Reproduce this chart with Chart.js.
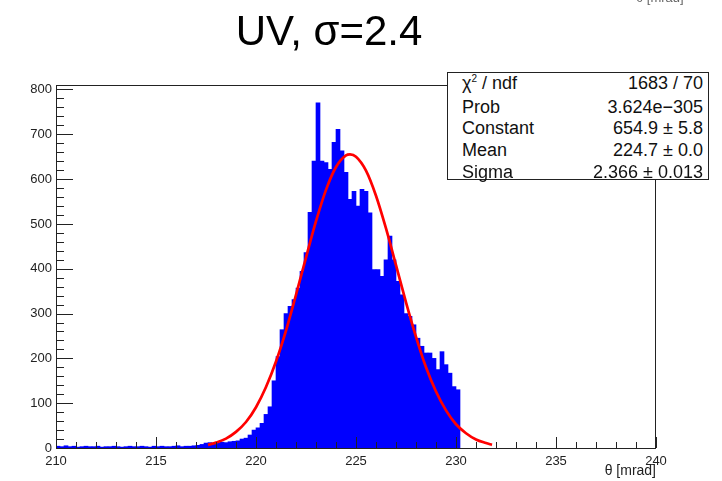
<!DOCTYPE html>
<html>
<head>
<meta charset="utf-8">
<script src="https://cdn.jsdelivr.net/npm/chart.js@4/dist/chart.umd.min.js"></script>
<style>
  html, body { margin: 0; padding: 0; background: #fff; }
  #wrap { position: relative; width: 722px; height: 481px; overflow: hidden; font-family: "Liberation Sans", Arial, sans-serif; }
  #c { position: absolute; left: 0; top: 0; }
  .title { position: absolute; left: 329px; top: 10px; transform: translateX(-50%); font-size: 42px; line-height: 42px; color: #000; white-space: nowrap; }
  .frag { position: absolute; left: 636px; top: -9px; font-size: 13px; line-height: 13px; color: #666; white-space: nowrap; }
  .stats { position: absolute; left: 447px; top: 72px; width: 260px; height: 106px; border: 1px solid #222; background: #fff; }
  .row { position: absolute; left: 0; right: 0; height: 18px; font-size: 18px; line-height: 18px; color: #111; white-space: nowrap; }
  .row .l { position: absolute; left: 14px; }
  .row .r { position: absolute; right: 5px; }
  sup { font-size: 10px; line-height: 0; vertical-align: 7px; }
</style>
</head>
<body>
<div id="wrap">
  <canvas id="c" width="722" height="481"></canvas>
  <div class="frag">θ [mrad]</div>
  <div class="title">UV, σ=2.4</div>
  <div class="stats" id="stats"></div>
</div>
<script>
// ---- data ----
const binStart = 210;      // lower edge of first bin (mrad)
const binWidth = 0.2;      // bin width (mrad)
const counts = [
  4,3,5,3,4,2,3,4,3,3,4,2,3,3,4,3,2,3,4,3,3,4,3,2,4,3,4,3,3,4,5,3,4,4,5,6,8,
  11,12,10,12,13,12,14,15,16,20,22,29,40,45,55,75,92,150,204,264,300,316,331,357,394,436,
  526,640,770,640,637,622,682,711,663,615,555,573,540,577,573,525,398,398,383,420,473,420,
  372,342,300,294,275,245,227,212,212,200,175,215,186,167,137,130
];
// fit curve (red)
const fitX = [217.6,218.0,218.5,219.0,219.5,220.0,220.5,221.0,221.5,222.0,222.5,223.0,223.5,224.0,224.5,224.7,
              225.0,225.5,226.0,226.5,227.0,227.5,228.0,228.5,229.0,229.5,230.0,230.5,231.0,231.5,231.8];
const fitY = [7,12,21,36,58,91,136,193,262,342,425,506,576,627,653,655,
              650,619,563,490,408,325,248,180,126,84,53,33,19,11,7];
const xTicks = [210,215,220,225,230,235,240];
const yTicks = [0,100,200,300,400,500,600,700,800];
const xTitle = "θ [mrad]";
const statsLabels = ["χ<sup>2</sup> / ndf", "Prob", "Constant", "Mean", "Sigma"];
const statsValues = ["1683 / 70", "3.624e−305", "654.9 ± 5.8", "224.7 ± 0.0", "2.366 ± 0.013"];

// ---- stats box ----
const rowCenters = [10, 34, 55, 77, 99];
const stats = document.getElementById('stats');
statsLabels.forEach((lab, i) => {
  const r = document.createElement('div');
  r.className = 'row';
  r.style.top = (rowCenters[i] - 9) + 'px';
  r.innerHTML = '<span class="l">' + lab + '</span><span class="r">' + statsValues[i] + '</span>';
  stats.appendChild(r);
});

const histData = counts.map((v, k) => ({ x: binStart + binWidth * (k + 0.5), y: v }));
const fitData = fitX.map((x, i) => ({ x: x, y: fitY[i] }));

const FONT = "'Liberation Sans', Arial, sans-serif";

const rootAxes = {
  id: 'rootAxes',
  afterDatasetsDraw(chart) {
    const { ctx, chartArea: a, scales: { x, y } } = chart;
    ctx.save();
    ctx.strokeStyle = '#222';
    ctx.lineWidth = 1;
    ctx.beginPath();
    // x ticks (major every 5, minor every 1), pointing up
    for (let v = xTicks[0]; v <= xTicks[xTicks.length - 1]; v += 1) {
      const px = Math.round(x.getPixelForValue(v)) + 0.5;
      const len = (v % 5 === 0) ? 11 : 6;
      ctx.moveTo(px, a.bottom);
      ctx.lineTo(px, a.bottom - len);
    }
    // y ticks (major every 100, minor every 20), pointing right
    for (let v = 0; v <= yTicks[yTicks.length - 1]; v += 20) {
      const py = Math.round(y.getPixelForValue(v)) + 0.5;
      const len = (v % 100 === 0) ? 17 : 8;
      ctx.moveTo(a.left, py);
      ctx.lineTo(a.left + len, py);
    }
    ctx.stroke();
    // frame
    ctx.strokeRect(a.left + 0.5, a.top + 0.5, a.right - a.left - 1, a.bottom - a.top);
    // axis title
    ctx.fillStyle = '#222';
    ctx.font = '14px ' + FONT;
    ctx.textAlign = 'right';
    ctx.textBaseline = 'middle';
    ctx.fillText(xTitle, a.right, 471);
    ctx.restore();
  }
};

new Chart(document.getElementById('c'), {
  type: 'bar',
  data: {
    datasets: [
      {
        type: 'line',
        data: fitData,
        borderColor: '#ff0000',
        borderWidth: 2.7,
        pointRadius: 0,
        fill: false,
        cubicInterpolationMode: 'monotone',
        order: 0
      },
      {
        type: 'bar',
        data: histData,
        backgroundColor: '#0000ff',
        borderWidth: 0,
        barPercentage: 1.0,
        categoryPercentage: 1.0,
        order: 1
      }
    ]
  },
  options: {
    responsive: false,
    animation: false,
    devicePixelRatio: 1,
    layout: { padding: { top: 85, right: 66, left: 0, bottom: 0 } },
    plugins: { legend: { display: false }, tooltip: { enabled: false }, title: { display: false } },
    scales: {
      x: {
        type: 'linear',
        min: 210, max: 240,
        offset: false,
        grid: { display: false, drawTicks: false },
        border: { display: false },
        ticks: { font: { size: 13, family: FONT }, color: '#222', padding: 6, maxRotation: 0, autoSkip: false },
        afterBuildTicks: s => { s.ticks = xTicks.map(v => ({ value: v })); },
        afterFit: s => { s.height = 481 - 448; }
      },
      y: {
        type: 'linear',
        min: 0, max: 810,
        grid: { display: false, drawTicks: false },
        border: { display: false },
        ticks: { font: { size: 13, family: FONT }, color: '#222', padding: 4, autoSkip: false },
        afterBuildTicks: s => { s.ticks = yTicks.map(v => ({ value: v })); },
        afterFit: s => { s.width = 56; }
      }
    }
  },
  plugins: [rootAxes]
});
</script>
</body>
</html>
